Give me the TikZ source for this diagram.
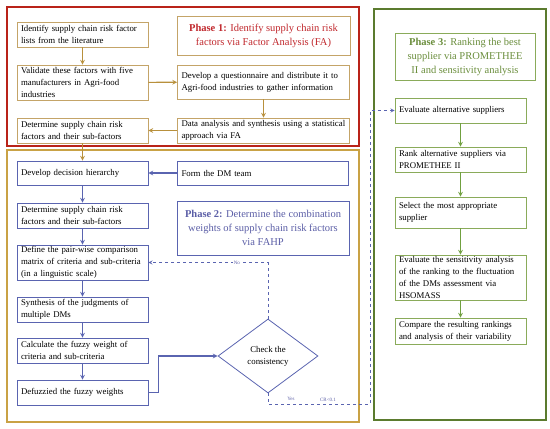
\documentclass[tikz,border=0pt]{standalone}
\usepackage{fontspec}
\setmainfont{Liberation Serif}
\usetikzlibrary{arrows}
\usetikzlibrary{shapes.geometric}
\usepackage{xcolor}
\definecolor{faframe}{RGB}{185,35,25}
\definecolor{faline}{RGB}{196,164,104}
\definecolor{faarrow}{RGB}{184,144,60}
\definecolor{fatext}{RGB}{192,40,45}
\definecolor{fahpframe}{RGB}{201,162,69}
\definecolor{fahpline}{RGB}{90,100,176}
\definecolor{fahptext}{RGB}{91,94,166}
\definecolor{promframe}{RGB}{91,123,46}
\definecolor{promline}{RGB}{138,171,90}
\definecolor{promarrow}{RGB}{112,160,64}
\definecolor{promtext}{RGB}{107,142,61}

\tikzset{
  stepfont/.style={font=\fontsize{8.8}{11.8}\selectfont},
  titlefont/.style={font=\fontsize{10.5}{14}\selectfont},
  stepbox/.style={line width=0.8pt, inner xsep=4pt, inner ysep=0pt, align=left, stepfont},
  narrowbox/.style={stepbox, text width=123pt},
  widebox/.style={stepbox, text width=164pt},
  titlebox/.style={line width=0.8pt, inner sep=0pt, align=center, titlefont},
  faflow/.style={draw=faarrow, line width=1.1pt, -stealth},
  fahpflow/.style={draw=fahpline, line width=1.1pt, -stealth},
  promflow/.style={draw=promarrow, line width=1.1pt, -stealth},
  tinylabel/.style={font=\fontsize{5}{6}\selectfont, inner sep=0.5pt}
}

\begin{document}
\begin{tikzpicture}[x=1pt,y=-1pt]
    \useasboundingbox (0,0) rectangle (550,429);
    % cadres des phases
    \draw[faframe, line width=2.2pt] (7,7) rectangle (359,146);
    \draw[fahpframe, line width=2pt] (7,150) rectangle (359,422);
    \draw[promframe, line width=2.5pt] (374,9) rectangle (546,420);

    % phase 1
    \node[titlebox, draw=faline, text=fatext, minimum width=173pt, minimum height=39pt] (titleone) at (263.5,35.5)
        {\textbf{Phase 1:} Identify supply chain risk\\factors via Factor Analysis (FA)};
    \node[narrowbox, draw=faline, minimum height=25pt] (ident) at (82.5,34.5)
        {Identify supply chain risk factor\\lists from the literature};
    \node[narrowbox, draw=faline, minimum height=35pt] (valid) at (82.5,82.5)
        {Validate these factors with five\\manufacturers in Agri-food\\industries};
    \node[widebox, draw=faline, minimum height=34pt] (quest) at (263.5,82)
        {Develop a questionnaire and distribute it to\\Agri-food industries to gather information};
    \node[narrowbox, draw=faline, minimum height=25pt] (detone) at (82.5,130.5)
        {Determine supply chain risk\\factors and their sub-factors};
    \node[widebox, draw=faline, minimum height=25pt] (data) at (263.5,130.5)
        {Data analysis and synthesis using a statistical\\approach via FA};

    \draw[faflow] (ident) -- (valid);
    \draw[faflow] (valid) -- (quest);
    \draw[faflow] (quest) -- (data);
    \draw[faflow] (data) -- (detone);

    % phase 2
    \node[narrowbox, draw=fahpline, minimum height=24pt] (hier) at (82.5,173)
        {Develop decision hierarchy};
    \node[widebox, text width=163pt, draw=fahpline, minimum height=24pt] (dmteam) at (263,173)
        {Form the DM team};
    \node[titlebox, draw=fahpline, text=fahptext, minimum width=172pt, minimum height=54pt] (titletwo) at (263,228)
        {\textbf{Phase 2:} Determine the combination\\weights of supply chain risk factors\\via FAHP};
    \node[narrowbox, draw=fahpline, minimum height=25pt] (dettwo) at (82.5,215.5)
        {Determine supply chain risk\\factors and their sub-factors};
    \node[narrowbox, draw=fahpline, minimum height=35pt] (define) at (82.5,262.5)
        {Define the pair-wise comparison\\matrix of criteria and sub-criteria\\(in a linguistic scale)};
    \node[narrowbox, draw=fahpline, minimum height=25pt] (synth) at (82.5,309.5)
        {Synthesis of the judgments of\\multiple DMs};
    \node[narrowbox, draw=fahpline, minimum height=25pt] (calc) at (82.5,350.5)
        {Calculate the fuzzy weight of\\criteria and sub-criteria};
    \node[narrowbox, draw=fahpline, minimum height=25pt] (defuz) at (82.5,392.5)
        {Defuzzied the fuzzy weights};
    \node[diamond, draw=fahpline, line width=0.8pt, minimum width=100pt, minimum height=74pt,
          inner sep=0pt, align=center, stepfont] (check) at (268,356)
        {Check the\\consistency};

    \draw[faflow] (detone) -- (hier);
    \draw[fahpflow] (dmteam) -- (hier);
    \draw[fahpflow] (hier) -- (dettwo);
    \draw[fahpflow] (dettwo) -- (define);
    \draw[fahpflow] (define) -- (synth);
    \draw[fahpflow] (synth) -- (calc);
    \draw[fahpflow] (calc) -- (defuz);
    \draw[fahpflow] (defuz.east) -- ++(10,0) |- (check.west);
    \draw[fahpflow, line width=0.8pt, dashed] (check.north) |- (define.east)
        node[pos=0.63, tinylabel, fill=white, text=fahptext] (nolabel) {No};

    % phase 3
    \node[titlebox, draw=promline, text=promtext, minimum width=140pt, minimum height=47pt] (titlethree) at (465,56.5)
        {\textbf{Phase 3:} Ranking the best\\supplier via PROMETHEE\\II and sensitivity analysis};
    \node[narrowbox, draw=promline, minimum height=25pt] (evalalt) at (460.5,110.5)
        {Evaluate alternative suppliers};
    \node[narrowbox, draw=promline, minimum height=25pt] (rank) at (460.5,159.5)
        {Rank alternative suppliers via\\PROMETHEE II};
    \node[narrowbox, draw=promline, minimum height=31pt] (select) at (460.5,212.5)
        {Select the most appropriate\\supplier};
    \node[narrowbox, draw=promline, minimum height=45pt] (sens) at (460.5,277.5)
        {Evaluate the sensitivity analysis\\of the ranking to the fluctuation\\of the DMs assessment via\\HSOMASS};
    \node[narrowbox, draw=promline, minimum height=26pt] (compare) at (460.5,331)
        {Compare the resulting rankings\\and analysis of their variability};

    \draw[promflow] (evalalt) -- (rank);
    \draw[promflow] (rank) -- (select);
    \draw[promflow] (select) -- (sens);
    \draw[promflow] (sens) -- (compare);

    % lien phase 2 -> phase 3
    \coordinate (yesturn) at (370,404);
    \draw[fahpflow, line width=0.8pt, dashed] (check.south) |- (yesturn) |- (evalalt.west);
    \node[tinylabel, text=fahptext] (yeslabel) at (291,398.5) {Yes};
    \node[tinylabel, text=fahptext] (crlabel) at (328,400) {CR<0.1};
\end{tikzpicture}
\end{document}
